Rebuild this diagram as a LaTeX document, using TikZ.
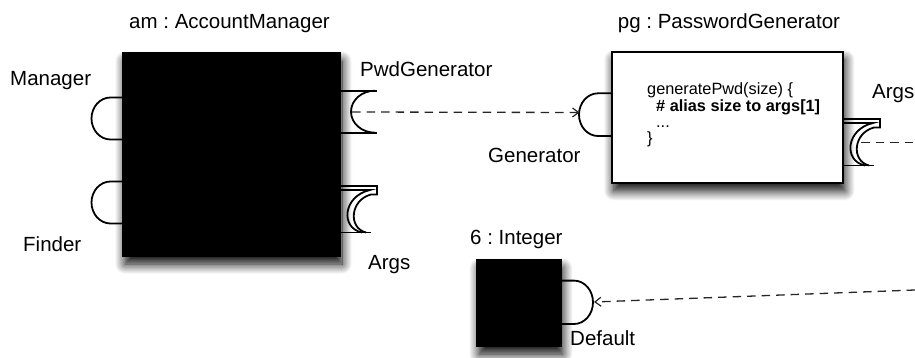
\documentclass[tikz,border=0pt]{standalone}
\usepackage{fontspec}
\setmainfont{Liberation Sans}
\usetikzlibrary{arrows.meta,shadows.blur}
\frenchspacing
\begin{document}
\begin{tikzpicture}[x=1pt,y=-1pt,
  lbl/.style={font=\fontsize{20.5}{24}\selectfont, inner sep=0pt},
  codeline/.style={font=\fontsize{16.3}{19}\selectfont, inner sep=0pt, anchor=base west},
  comp/.style={draw=black, line width=1.8pt, inner sep=0pt,
    blur shadow={shadow xshift=2pt, shadow yshift=-8pt, shadow blur radius=10pt, shadow blur steps=12, shadow opacity=100}},
  iface/.style={line width=1.8pt, line join=miter},
  depline/.style={line width=1.3pt, draw=black!85, dash pattern=on 8.5pt off 6pt},
  dep/.style={depline, -{Straight Barb[length=6pt,width=9pt,line width=1.2pt]}},
  argsport/.pic={
    \draw[iface] (0,0) -- (37,0) -- (37,8.5) -- (31,8.5)
      .. controls (10,14) and (8,42) .. (26,46.5);
    \draw[iface] (0,4) -- (30,4)
      .. controls (3,10) and (0,42) .. (22,46.5);
    \draw[iface] (0,46.5) -- (31,46.5);
  }
]
\useasboundingbox (0,0) rectangle (915,358);

% components
\node[comp, fill=black, minimum width=217pt, minimum height=203pt] (am) at (231.5,154.5) {};
\node[comp, fill=white, minimum width=231pt, minimum height=131pt] (pg) at (727.3,117.2) {};
\node[comp, fill=black, minimum width=83.4pt, minimum height=86pt] (int) at (519,303) {};

% titles and labels
\node[lbl, anchor=base] (amlbl) at (229.5,29) {am : AccountManager};
\node[lbl, anchor=base] (pglbl) at (729,29) {pg : PasswordGenerator};
\node[lbl, anchor=base west] (mgr) at (10,86) {Manager};
\node[lbl, anchor=base west] (fnd) at (23,251.5) {Finder};
\node[lbl, anchor=base west] (pwdg) at (360,76.7) {PwdGenerator};
\node[lbl, anchor=base west] (args1) at (368,269.3) {Args};
\node[lbl, anchor=base west] (gen) at (488,163) {Generator};
\node[lbl, anchor=base west] (args2) at (872,98.3) {Args};
\node[lbl, anchor=base west] (intlbl) at (470,244) {6 : Integer};
\node[lbl, anchor=base west] (dflt) at (570,345) {Default};

% code inside pg
\node[codeline] (c1) at (647,95) {generatePwd(size) \{};
\node[codeline] (c2) at (656,111.5) {\textbf{\# alias size to args[1]}};
\node[codeline] (c3) at (656,127.5) {...};
\node[codeline] (c4) at (647,144) {\}};

% provided interfaces (balls)
\draw[iface] (123,97.5) -- (110.5,97.5) arc[start angle=270, end angle=90, x radius=19, y radius=21] -- (123,139.5);
\draw[iface] (123,181.5) -- (110.5,181.5) arc[start angle=270, end angle=90, x radius=19, y radius=21] -- (123,223.5);
\draw[iface] (612,93.3) -- (598,93.3) arc[start angle=270, end angle=90, x radius=19, y radius=21.35] -- (612,136);
\draw[iface] (561,280.6) -- (574,280.6) arc[start angle=-90, end angle=90, x radius=19, y radius=21.7] -- (561,324);

% required interface (socket)
\draw[iface] (340,90.7) -- (377,90.7);
\draw[iface] (340,132.7) -- (377,132.7);
\draw[iface] (375,90.7) arc[start angle=270, end angle=90, x radius=24, y radius=21];

% multiple ports
\pic at (340,186) {argsport};
\pic at (843,119) {argsport};

% connectors
\coordinate (pwdsock) at (352,112);
\coordinate (gentip) at (579.5,112.5);
\coordinate (argsout) at (861,142.5);
\coordinate (edgeA) at (915,142.5);
\coordinate (edgeB) at (915,290);
\coordinate (inttip) at (594,302);
\draw[dep] (pwdsock) -- (gentip);
\draw[depline] (argsout) -- (edgeA);
\draw[dep] (edgeB) -- (inttip);
\end{tikzpicture}
\end{document}
